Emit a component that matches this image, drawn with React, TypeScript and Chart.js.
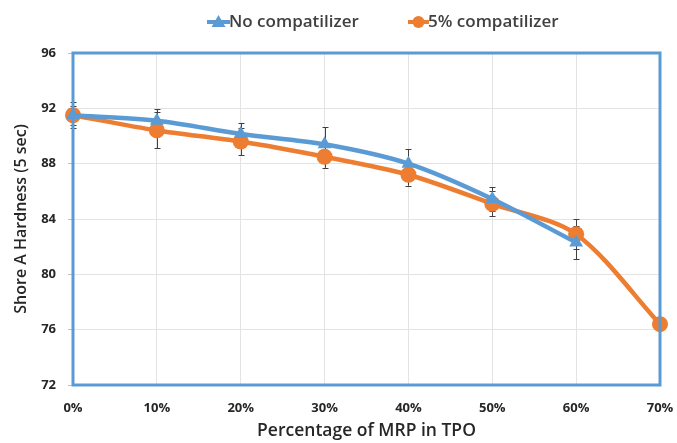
import React, { useEffect, useRef } from "react";
import { Chart, registerables } from "chart.js";

Chart.register(...registerables);

const categories = ["0%", "10%", "20%", "30%", "40%", "50%", "60%", "70%"];
const noCompatValues = [91.5, 91.1, 90.15, 89.4, 88.0, 85.45, 82.3];
const noCompatErrors = [0.95, 0.85, 0.8, 1.25, 1.06, 0.85, 1.2];
const compatValues = [91.5, 90.4, 89.6, 88.5, 87.2, 85.1, 82.9, 76.4];
const compatErrors = [0.7, 1.3, 1.0, 0.8, 0.8, 0.9, 1.1, 0.3];
const yTicks = [72, 76, 80, 84, 88, 92, 96];

const BLUE = "#5B9BD5";
const ORANGE = "#ED7D31";
const FONT = "'Open Sans', 'Liberation Sans', sans-serif";

const errorBars = {
  id: "errorBars",
  beforeDatasetsDraw(chart: any) {
    const ctx = chart.ctx;
    const y = chart.scales.y;
    const errs = [noCompatErrors, compatErrors];
    ctx.save();
    ctx.strokeStyle = "#404040";
    ctx.lineWidth = 1;
    chart.data.datasets.forEach((ds: any, di: number) => {
      const meta = chart.getDatasetMeta(di);
      meta.data.forEach((pt: any, i: number) => {
        const v = ds.data[i];
        const e = errs[di][i];
        if (v == null || e == null) return;
        const x = Math.round(pt.x) + 0.5;
        const t = y.getPixelForValue(v + e);
        const b = y.getPixelForValue(v - e);
        ctx.beginPath();
        ctx.moveTo(x, t);
        ctx.lineTo(x, b);
        ctx.moveTo(x - 3, Math.round(t) + 0.5);
        ctx.lineTo(x + 3, Math.round(t) + 0.5);
        ctx.moveTo(x - 3, Math.round(b) + 0.5);
        ctx.lineTo(x + 3, Math.round(b) + 0.5);
        ctx.stroke();
      });
    });
    ctx.restore();
  },
};

const frameAndLegend = {
  id: "frameAndLegend",
  afterDraw(chart: any) {
    const ctx = chart.ctx;
    const a = chart.chartArea;
    ctx.save();
    ctx.strokeStyle = BLUE;
    ctx.lineWidth = 3;
    ctx.strokeRect(a.left, a.top, a.right - a.left, a.bottom - a.top);

    // legend
    const ly = 22;
    ctx.font = `600 17px ${FONT}`;
    ctx.textBaseline = "middle";
    // blue item
    ctx.strokeStyle = BLUE;
    ctx.lineWidth = 4;
    ctx.beginPath();
    ctx.moveTo(207, ly);
    ctx.lineTo(230, ly);
    ctx.stroke();
    ctx.fillStyle = BLUE;
    ctx.beginPath();
    ctx.moveTo(218.5, ly - 7);
    ctx.lineTo(225.5, ly + 5);
    ctx.lineTo(211.5, ly + 5);
    ctx.closePath();
    ctx.fill();
    ctx.fillStyle = "#404040";
    ctx.fillText("No compatilizer", 229, ly);
    // orange item
    ctx.strokeStyle = ORANGE;
    ctx.beginPath();
    ctx.moveTo(408, ly);
    ctx.lineTo(429, ly);
    ctx.stroke();
    ctx.fillStyle = ORANGE;
    ctx.beginPath();
    ctx.arc(418.5, ly, 6, 0, Math.PI * 2);
    ctx.fill();
    ctx.fillStyle = "#404040";
    ctx.fillText("5% compatilizer", 428, ly);
    ctx.restore();
  },
};

export default function App() {
  const ref = useRef<HTMLCanvasElement>(null);
  useEffect(() => {
    if (!ref.current) return;
    const chart = new Chart(ref.current, {
      type: "line",
      data: {
        labels: categories,
        datasets: [
          {
            label: "No compatilizer",
            data: noCompatValues,
            borderColor: BLUE,
            backgroundColor: BLUE,
            borderWidth: 4.5,
            pointStyle: "triangle",
            pointRadius: 8,
            pointBorderWidth: 0,
            tension: 0.3,
          },
          {
            label: "5% compatilizer",
            data: compatValues,
            borderColor: ORANGE,
            backgroundColor: ORANGE,
            borderWidth: 4.5,
            pointStyle: "circle",
            pointRadius: 8,
            pointBorderWidth: 0,
            tension: 0.3,
          },
        ],
      },
      options: {
        animation: false,
        responsive: false,
        layout: { padding: { top: 53, right: 0, left: 0, bottom: 0 } },
        plugins: { legend: { display: false }, tooltip: { enabled: false } },
        scales: {
          x: {
            offset: false,
            grid: { color: "#e3e3e3", tickLength: 5, drawTicks: false },
            border: { display: false },
            ticks: {
              padding: 15,
              color: "#262626",
              font: { family: FONT, weight: "bold", size: 13 },
            },
            title: {
              display: true,
              text: "Percentage of MRP in TPO",
              color: "#262626",
              font: { family: FONT, weight: "600", size: 17.5 },
              padding: { top: 0, bottom: 1 },
            },
            afterFit: (s: any) => {
              s.height = 58;
              s.paddingRight = 17;
            },
          },
          y: {
            min: 72,
            max: 96,
            afterBuildTicks: (s: any) => {
              s.ticks = yTicks.map((v) => ({ value: v }));
            },
            grid: { color: "#e3e3e3", tickLength: 5, tickColor: "#bfbfbf" },
            border: { display: false },
            ticks: {
              padding: 12,
              color: "#262626",
              font: { family: FONT, weight: "bold", size: 13 },
            },
            title: {
              display: true,
              text: "Shore A Hardness (5 sec)",
              color: "#262626",
              font: { family: FONT, weight: "600", size: 16 },
              padding: { top: 12, bottom: 0 },
            },
            afterFit: (s: any) => {
              s.width = 73;
            },
          },
        },
      },
      plugins: [errorBars, frameAndLegend],
    } as any);
    return () => chart.destroy();
  }, []);
  return (
    <div style={{ position: "fixed", left: 0, top: 0, width: 677, height: 443, background: "#fff" }}>
      <canvas ref={ref} width={677} height={443} style={{ width: 677, height: 443 }} />
    </div>
  );
}
